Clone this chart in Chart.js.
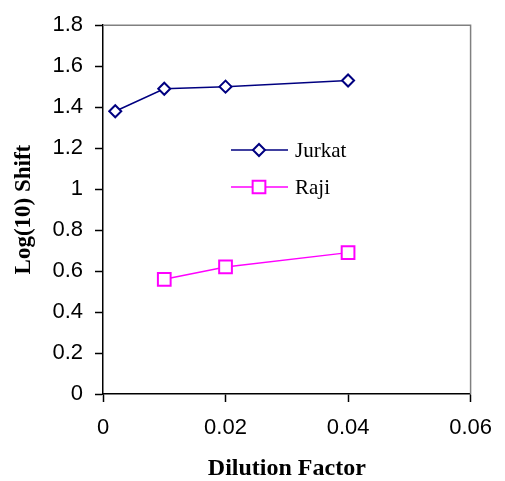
<!DOCTYPE html>
<html>
<head>
<meta charset="UTF-8">
<title>Log(10) Shift vs Dilution Factor</title>
<script src="https://cdn.jsdelivr.net/npm/chart.js"></script>
<style>
  body { margin: 0; background: #fff; }
</style>
</head>
<body>
<canvas id="chart" width="505" height="481"></canvas>
<script>
// data
const jurkatX = [0.002, 0.01, 0.02, 0.04];
const jurkatY = [1.38, 1.49, 1.50, 1.53];
const rajiX = [0.01, 0.02, 0.04];
const rajiY = [0.56, 0.62, 0.69];
const seriesNames = ["Jurkat", "Raji"];
const xTicks = [0, 0.02, 0.04, 0.06];
const yTicks = [0, 0.2, 0.4, 0.6, 0.8, 1, 1.2, 1.4, 1.6, 1.8];

const toPoints = (xs, ys) => xs.map((x, i) => ({ x: x, y: ys[i] }));

// gray frame on top/right, like the excel plot area
const frame = {
  id: "frame",
  beforeDatasetsDraw(chart) {
    const a = chart.chartArea, ctx = chart.ctx;
    ctx.save();
    ctx.strokeStyle = "#808080";
    ctx.lineWidth = 1.5;
    ctx.beginPath();
    ctx.moveTo(a.left, a.top);
    ctx.lineTo(a.right, a.top);
    ctx.lineTo(a.right, a.bottom);
    ctx.stroke();
    ctx.restore();
  }
};

// legend sits inside the plot
const innerLegend = {
  id: "innerLegend",
  afterDraw(chart) {
    const ctx = chart.ctx;
    const rows = [150, 187];
    chart.data.datasets.forEach((ds, i) => {
      const y = rows[i];
      ctx.save();
      ctx.strokeStyle = ds.borderColor;
      ctx.lineWidth = 1.5;
      ctx.beginPath();
      ctx.moveTo(231, y);
      ctx.lineTo(288, y);
      ctx.stroke();
      ctx.fillStyle = "#fff";
      ctx.lineWidth = ds.pointBorderWidth;
      Chart.helpers.drawPoint(ctx, { pointStyle: ds.pointStyle, radius: ds.pointRadius, borderWidth: ds.pointBorderWidth }, 259, y);
      ctx.fillStyle = "#000";
      ctx.font = "21px 'Liberation Serif', 'Times New Roman', serif";
      ctx.textBaseline = "middle";
      ctx.fillText(ds.label, 295, y + 1);
      ctx.restore();
    });
  }
};

new Chart(document.getElementById("chart"), {
  type: "scatter",
  data: {
    datasets: [{
      label: seriesNames[0],
      data: toPoints(jurkatX, jurkatY),
      showLine: true,
      borderColor: "#000080",
      borderWidth: 1.5,
      backgroundColor: "#fff",
      pointStyle: "rectRot",
      pointRadius: 6,
      pointBorderWidth: 2,
      pointBackgroundColor: "#fff",
      pointBorderColor: "#000080"
    }, {
      label: seriesNames[1],
      data: toPoints(rajiX, rajiY),
      showLine: true,
      borderColor: "#ff00ff",
      borderWidth: 1.5,
      backgroundColor: "#fff",
      pointStyle: "rect",
      pointRadius: 9,
      pointBorderWidth: 2,
      pointBackgroundColor: "#fff",
      pointBorderColor: "#ff00ff"
    }]
  },
  options: {
    responsive: false,
    animation: false,
    layout: { padding: { top: 25, right: 26, left: 0, bottom: 0 } },
    plugins: { legend: { display: false }, tooltip: { enabled: false } },
    scales: {
      x: {
        type: "linear",
        min: 0, max: 0.06,
        afterBuildTicks: s => { s.ticks = xTicks.map(v => ({ value: v })); },
        afterFit: s => { s.height = 87; },
        ticks: {
          color: "#000",
          padding: 13,
          maxRotation: 0,
          font: { family: "'Liberation Sans', Arial, sans-serif", size: 22 },
          callback: v => String(v)
        },
        grid: { display: true, drawOnChartArea: false, drawTicks: true, tickLength: 8, color: "#000", tickWidth: 1.5 },
        border: { display: true, color: "#000", width: 1.5 },
        title: {
          display: true,
          text: "Dilution Factor",
          color: "#000",
          padding: 0,
          font: { family: "'Liberation Serif', 'Times New Roman', serif", size: 24, weight: "bold", lineHeight: 1 }
        }
      },
      y: {
        min: 0, max: 1.8,
        afterBuildTicks: s => { s.ticks = yTicks.map(v => ({ value: v })); },
        afterFit: s => { s.width = 103; },
        ticks: {
          color: "#000",
          padding: 12,
          font: { family: "'Liberation Sans', Arial, sans-serif", size: 22 },
          callback: v => String(Math.round(v * 10) / 10)
        },
        grid: { display: true, drawOnChartArea: false, drawTicks: true, tickLength: 8, color: "#000", tickWidth: 1.5 },
        border: { display: true, color: "#000", width: 1.5 },
        title: {
          display: true,
          text: "Log(10) Shift",
          color: "#000",
          padding: { top: 13, bottom: 0 },
          font: { family: "'Liberation Serif', 'Times New Roman', serif", size: 23, weight: "bold", lineHeight: 1 }
        }
      }
    }
  },
  plugins: [frame, innerLegend]
});
</script>
</body>
</html>
